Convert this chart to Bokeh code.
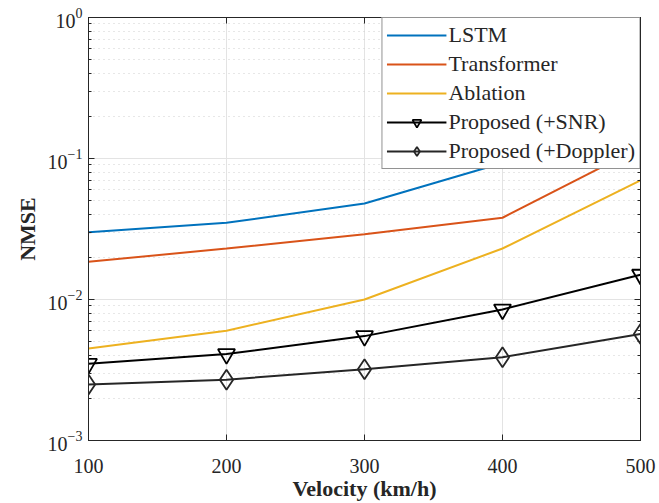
from bokeh.plotting import figure
from bokeh.models import (Range1d, FixedTicker, LogAxis, LinearAxis, Legend, LegendItem,
                          CustomJSTickFormatter)
from bokeh.embed import file_html
from bokeh.resources import INLINE

velocity = [100, 200, 300, 400, 500]
lstm = [0.030, 0.035, 0.048, 0.093, 0.25]
transformer = [0.0185, 0.023, 0.029, 0.038, 0.12]
ablation = [0.0045, 0.006, 0.010, 0.023, 0.070]
prop_snr = [0.0035, 0.0041, 0.0055, 0.0085, 0.015]
prop_doppler = [0.0025, 0.0027, 0.0032, 0.0039, 0.0057]
x_ticks = [100, 200, 300, 400, 500]

FONT = "Liberation Serif"
AX = "#262626"

p = figure(width=659, height=503, x_range=Range1d(100, 500), y_range=Range1d(1e-3, 1),
           y_axis_type="log", output_backend="svg", toolbar_location=None,
           min_border_left=88, min_border_right=19, min_border_top=17, min_border_bottom=60)
p.outline_line_color = AX
p.outline_line_width = 1
p.background_fill_color = "white"
p.border_fill_color = "white"

# axes
p.xaxis.ticker = FixedTicker(ticks=x_ticks)
p.xaxis.axis_label = "Velocity (km/h)"
p.yaxis.axis_label = "NMSE"
for ax in [p.xaxis[0], p.yaxis[0]]:
    ax.axis_label_text_font = FONT
    ax.axis_label_text_font_style = "bold"
    ax.axis_label_text_font_size = "22px"
    ax.axis_label_text_color = AX
    ax.major_label_text_font = FONT
    ax.major_label_text_font_size = "20px"
    ax.major_label_text_color = AX
    ax.axis_line_color = AX
    ax.major_tick_line_color = AX
    ax.minor_tick_line_color = AX
    ax.major_tick_in = 6
    ax.major_tick_out = 0
    ax.minor_tick_in = 3
    ax.minor_tick_out = 0
p.xaxis.minor_tick_line_color = None
p.xaxis.major_label_standoff = 18
p.xaxis.axis_label_standoff = 0
p.yaxis.major_label_standoff = 6

blank = CustomJSTickFormatter(code="return ''")

ra = LogAxis()
ra.ticker = p.yaxis[0].ticker
ra.formatter = blank
ra.axis_line_color = AX
ra.major_tick_line_color = AX
ra.minor_tick_line_color = AX
ra.major_tick_in = 6
ra.major_tick_out = 0
ra.minor_tick_in = 3
ra.minor_tick_out = 0
ra.major_label_standoff = 0
p.add_layout(ra, "right")

ta = LinearAxis(ticker=FixedTicker(ticks=x_ticks), formatter=CustomJSTickFormatter(code="return ''"))
ta.axis_line_color = AX
ta.major_tick_line_color = AX
ta.minor_tick_line_color = None
ta.major_tick_in = 6
ta.major_tick_out = 0
ta.major_label_standoff = 0
p.add_layout(ta, "above")

# grids
p.xgrid.grid_line_color = "#e3e3e3"
p.ygrid.grid_line_color = "#e3e3e3"
p.ygrid.minor_grid_line_color = "#cfcfcf"
p.ygrid.minor_grid_line_dash = "1 4"

l1 = p.line(velocity, lstm, line_color="#0072BD", line_width=2)
l2 = p.line(velocity, transformer, line_color="#D95319", line_width=2)
l3 = p.line(velocity, ablation, line_color="#EDB120", line_width=2)
l4 = p.line(velocity, prop_snr, line_color="black", line_width=2)
m4 = p.scatter(velocity, prop_snr, marker="inverted_triangle", size=17, fill_color=None,
               line_color="black", line_width=1.8)
l5 = p.line(velocity, prop_doppler, line_color="#262626", line_width=2)
m5 = p.scatter(velocity, prop_doppler, marker="diamond", size=20, fill_color=None,
               line_color="#262626", line_width=1.8)

legend = Legend(items=[
    LegendItem(label="LSTM", renderers=[l1]),
    LegendItem(label="Transformer", renderers=[l2]),
    LegendItem(label="Ablation", renderers=[l3]),
    LegendItem(label="Proposed (+SNR)", renderers=[l4, m4]),
    LegendItem(label="Proposed (+Doppler)", renderers=[l5, m5]),
], location="top_right")
legend.label_text_font = FONT
legend.label_text_font_size = "22px"
legend.label_text_color = AX
legend.glyph_width = 60
legend.glyph_height = 22
legend.label_height = 22
legend.label_standoff = 2
legend.spacing = 3
legend.padding = 4
legend.margin = 0
legend.border_line_color = AX
legend.border_line_width = 1
legend.background_fill_alpha = 1
p.add_layout(legend)

open("out.html", "w").write(file_html(p, INLINE))
